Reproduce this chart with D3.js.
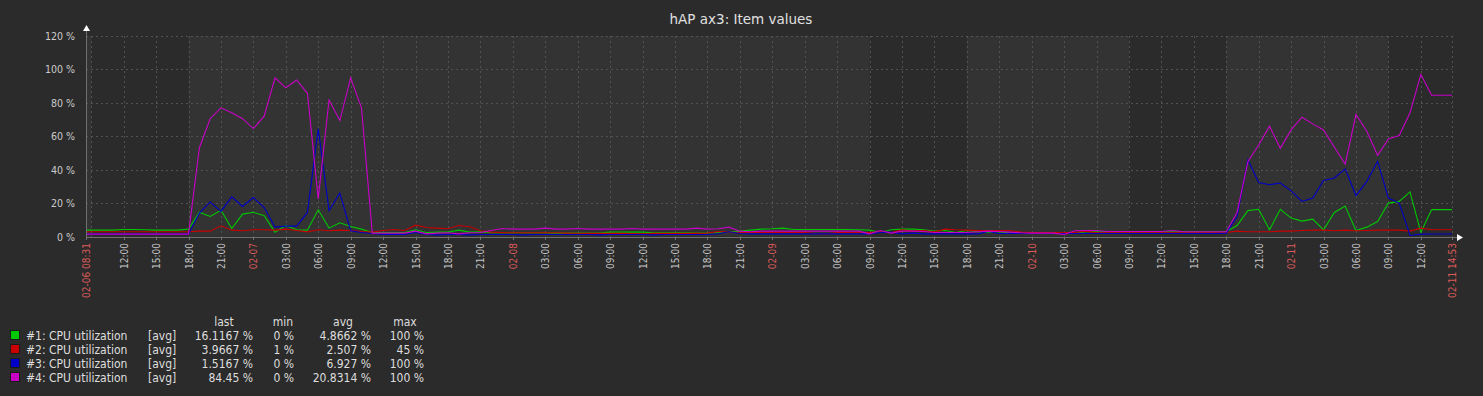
<!DOCTYPE html>
<html>
<head>
<meta charset="utf-8">
<script src="https://cdn.jsdelivr.net/npm/d3@7"></script>
<style>
  body { margin: 0; background: #2b2b2b; }
  svg { display: block; font-family: "DejaVu Sans Condensed", "DejaVu Sans", sans-serif; font-stretch: condensed; }
</style>
</head>
<body>
<div id="chart-area"></div>
<script>
// hourly averages, first value = 02-06 09:00, last value = 02-11 13:00
var cpu1 = [
  3.8, 3.8, 3.8, 4.2, 4.2, 4.0, 3.8, 3.8, 3.8, 4.4,
  14.5, 12, 15.7, 4.8, 13.4, 14.5, 12.5, 2.6, 6.6, 4, 3.8, 16, 5, 8.2, 6, 4.4, 2.4,
  2.4, 2.4, 2.4, 4, 2.4, 2.6, 2.6, 3.8, 2.6, 2.8, 2.2, 2.2,
  2.2, 2.2, 2.2, 2.2, 2, 2, 2, 2, 2,
  2.6, 2.6, 2.6, 2.6,
  2.2, 2.2, 2.2, 2.2, 2, 2,
  2.4, 2.6, 3.2,
  3.8, 4.4, 4.6, 5, 4.2, 4.2, 4.2, 4.2, 4.2, 4.2, 4, 3.8,
  2.4, 4, 4.4, 4.4, 4, 3.2, 3.6, 2.4,
  3.6, 2.8, 2.4, 2.8, 2, 2, 2, 2, 2, 2, 1.8, 2.8,
  2.8, 2.8, 2.8, 2.8, 2.8, 2.8, 2.8, 2.8, 2.8, 2.8, 2.8, 2.8, 2.8,
  6.6, 15.5, 16.3, 4, 16.3, 11, 9.2, 10.4, 4, 14.4, 18.3, 3.6, 5.6, 9, 20, 21, 26.7, 2.4, 16.1
];
var cpu2 = [
  2.8, 2.8, 2.8, 2.8, 2.8, 2.8, 2.8, 2.8, 2.8, 2.8,
  3.2, 3.2, 6.4, 3.8, 3.4, 4, 4, 3.8, 4.4, 3.6, 2.8, 4, 3.4, 3.8, 3.6, 3, 2.6,
  3.6, 4.2, 3.6, 6.8, 5.4, 5.0, 4.6, 6.6, 5.8, 3.4, 2.6, 2.4,
  2.2, 2.2, 2.2, 2.2, 2.2, 2.0, 1.9, 1.9, 1.9, 1.9, 1.9, 1.8, 1.6, 1.9, 1.9, 1.9, 1.9, 1.9, 2.0,
  3, 2.6, 2.4,
  2.4, 2.4, 2.4, 2.4, 2.4, 2.4,
  1.8, 1.6,
  2.4, 2.4, 2.4, 2.4, 2.8, 2.4,
  4, 3.2, 3.6, 2.8, 4.4, 4,
  3.8, 3.6, 3.6, 3.6, 3.6,
  2.6,
  2.4, 2.4, 2.4, 2.4, 2.4,
  3.2,
  2.2, 2.2, 2.2, 2.2, 2.2, 2.2, 2.2, 2.2, 2.2, 2.2, 2.2, 2.2, 2.4,
  3.2, 2.8, 2.8, 2.8, 3.2, 3.2, 3.6, 3.8, 3.8, 3.4, 3.8, 3.4, 3.6, 3.8, 3.8, 3.8, 3.2, 5, 4.0
];
var cpu3 = [
  1.4, 1.4, 1.4, 1.4, 1.4, 1.4, 1.4, 1.4, 1.4, 1.4,
  14, 20.7, 15, 23.7, 18, 23.3, 17.3, 5.6, 6.2, 6.2, 14.4, 64.4, 15.5, 26, 3.4, 2.4, 1.8,
  1.2, 1.2, 1.2,
  2.4,
  1.2, 1.0, 1.2, 1.2, 1.0, 1.2, 1.2, 1.2, 1.2, 1.0, 1.2, 1.2, 1.2, 1.2,
  1.2, 1.2, 1.0, 1.2, 1.2, 1.2, 1.2, 1.0, 1.2, 1.2, 1.2, 1.2, 1.2,
  1.6, 2.8, 1.8,
  1.6, 1.6, 1.6, 1.6, 1.6, 1.6, 1.6, 1.6, 1.6, 1.6, 1.6, 1.6,
  2.4, 2.6, 1.6, 2,
  1.6, 1.6, 1.6, 1.6, 1.6, 1.6,
  3, 1.8,
  1.8, 1.8, 1.8, 1.8, 1.8, 1.8, 1.8, 1.8, 1.8, 1.8, 1.8, 1.8, 1.8, 1.8, 1.8, 1.8, 1.8, 1.8, 1.8, 1.8,
  2,
  12, 46, 32.3, 31, 32, 27.3, 21, 23, 33.5, 35, 40.5, 24.5, 33, 45, 23, 20, 0.6, 1.4, 1.5
];
var cpu4 = [
  1.4, 1.4, 1.4, 1.4, 1.4, 1.4, 1.4, 1.4, 1.4, 1.4,
  53, 70.5, 77, 74, 70.5, 64.6, 72, 95, 89, 93.7, 85.7, 22.5, 81.7, 69.4, 95, 77, 2,
  2, 2, 2,
  3.2, 1.6, 2, 2.2, 1.6, 2.2, 2.4, 3.6, 4.8,
  4.4, 4.4, 4.4, 5, 4.4, 4.4,
  4.8,
  4.4, 4.4, 4.4, 4.4,
  4.8,
  4.4, 4.4, 4.4, 4.4, 4.4,
  5, 4.4, 4.6, 5.6, 3.2, 2.8,
  3.2, 3.2, 3.2, 3.2, 3.2, 3.2, 3.2, 3.2, 3.2, 3.2,
  1.6, 3.6, 2, 3.2, 3.2, 3, 2.4, 2.4, 2.4, 2.4,
  2.8, 3.2, 3, 2.6, 2.2, 2, 2, 2, 1.2, 3.4, 3.6, 3.6,
  3.0, 3.0, 3.0, 3.0, 3.0, 3.0,
  3.6,
  2.8, 2.8, 2.8, 2.8, 2.8,
  14.4, 44.8, 54.8, 66, 52.8, 63.8, 71.4, 67.4, 63.8, 53.4, 43.3, 73, 63, 48.6, 58.4, 60.4, 74, 97, 84.5
];

var seriesNames = ["#1: CPU utilization", "#2: CPU utilization", "#3: CPU utilization", "#4: CPU utilization"];
var seriesColors = ["#00c800", "#c80000", "#0000c8", "#c800c8"];
var lastVals = ["16.1167 %", "3.9667 %", "1.5167 %", "84.45 %"];
var minVals = ["0 %", "1 %", "0 %", "0 %"];
var avgVals = ["4.8662 %", "2.507 %", "6.927 %", "20.8314 %"];
var maxVals = ["100 %", "45 %", "100 %", "100 %"];
var yTicks = [0, 20, 40, 60, 80, 100, 120];

var timeStart = new Date(2026, 1, 6, 8, 31);
var timeEnd = new Date(2026, 1, 11, 14, 53);
var firstHour = new Date(2026, 1, 6, 9, 0);

var width = 1483, height = 396;
var plotLeft = 86, plotRight = 1452, plotTop = 36, plotBottom = 236.5;

var svg = d3.select("#chart-area")
  .append("svg")
    .attr("width", width)
    .attr("height", height);

var x = d3.scaleTime().domain([timeStart, timeEnd]).range([plotLeft, plotRight]);
var y = d3.scaleLinear().domain([0, 120]).range([plotBottom, plotTop]);

// title
svg.append("text")
  .attr("x", 741).attr("y", 24)
  .attr("text-anchor", "middle")
  .attr("fill", "#e0e0e0")
  .style("font-size", "13.5px")
  .style("font-family", "'DejaVu Sans', sans-serif")
  .style("font-stretch", "normal")
  .text("hAP ax3: Item values");

// background: non-working time light, working time (Mon-Fri 09-18) dark
svg.append("rect")
  .attr("x", plotLeft).attr("y", plotTop)
  .attr("width", plotRight - plotLeft).attr("height", plotBottom - plotTop)
  .attr("fill", "#333333");

d3.timeDay.range(d3.timeDay.floor(timeStart), timeEnd).forEach(function(day) {
  var dow = day.getDay();
  if (dow == 0 || dow == 6) return;
  var s = d3.timeHour.offset(day, 9), e = d3.timeHour.offset(day, 18);
  if (s < timeStart) s = timeStart;
  if (e > timeEnd) e = timeEnd;
  if (e <= s) return;
  svg.append("rect")
    .attr("x", x(s)).attr("y", plotTop)
    .attr("width", x(e) - x(s)).attr("height", plotBottom - plotTop)
    .attr("fill", "#2b2b2b");
});

// grid
var hourTicks = d3.timeHour.every(3).range(timeStart, timeEnd);
var grid = svg.append("g")
  .attr("stroke", "#525252")
  .attr("stroke-dasharray", "2,3")
  .attr("shape-rendering", "crispEdges");

grid.selectAll("line.h")
  .data(yTicks.slice(1))
  .enter().append("line")
    .attr("class", "h")
    .attr("x1", plotLeft).attr("x2", plotRight)
    .attr("y1", function(d) { return Math.round(y(d)) + 0.5; })
    .attr("y2", function(d) { return Math.round(y(d)) + 0.5; });

grid.selectAll("line.v")
  .data(hourTicks.concat([timeEnd]))
  .enter().append("line")
    .attr("class", "v")
    .attr("x1", function(d) { return Math.round(x(d)) + 0.5; })
    .attr("x2", function(d) { return Math.round(x(d)) + 0.5; })
    .attr("y1", plotTop).attr("y2", plotBottom);

// series lines
var line = d3.line()
  .x(function(d) { return x(d[0]); })
  .y(function(d) { return y(d[1]); });

[cpu1, cpu2, cpu3, cpu4].forEach(function(vals, i) {
  var pts = [[timeStart, vals[0]]];
  vals.forEach(function(v, h) {
    pts.push([d3.timeHour.offset(firstHour, h), v]);
  });
  pts.push([timeEnd, vals[vals.length - 1]]);
  svg.append("path")
    .datum(pts)
    .attr("d", line)
    .attr("fill", "none")
    .attr("stroke", seriesColors[i])
    .attr("stroke-width", 1.1);
});

// axes
svg.append("line")
  .attr("x1", plotLeft + 0.5).attr("x2", plotLeft + 0.5)
  .attr("y1", 29).attr("y2", plotBottom + 1)
  .attr("stroke", "#707070");
svg.append("line")
  .attr("x1", plotLeft).attr("x2", 1457)
  .attr("y1", 237.5).attr("y2", 237.5)
  .attr("stroke", "#707070");
svg.append("path")
  .attr("d", "M" + (plotLeft + 0.5) + ",25 L" + (plotLeft + 4) + ",31 L" + (plotLeft - 3) + ",31 Z")
  .attr("fill", "#ffffff");
svg.append("path")
  .attr("d", "M1463,237.5 L1457,234 L1457,241 Z")
  .attr("fill", "#ffffff");

// y labels
svg.selectAll("text.ylab")
  .data(yTicks)
  .enter().append("text")
    .attr("class", "ylab")
    .attr("x", 75)
    .attr("y", function(d) { return y(d) + 4; })
    .attr("text-anchor", "end")
    .attr("fill", "#cccccc")
    .style("font-size", "10.5px")
    .text(function(d) { return d + " %"; });

// x labels
var fmtHour = d3.timeFormat("%H:%M");
var fmtDay = d3.timeFormat("%m-%d");
var fmtFull = d3.timeFormat("%m-%d %H:%M");
var xLabels = [{t: timeStart, text: fmtFull(timeStart), red: true}];
hourTicks.forEach(function(t) {
  if (x(t) - x(timeStart) < 15) return;
  var midnight = t.getHours() == 0;
  xLabels.push({t: t, text: midnight ? fmtDay(t) : fmtHour(t), red: midnight});
});
xLabels.push({t: timeEnd, text: fmtFull(timeEnd), red: true});

svg.selectAll("line.xtick")
  .data(xLabels)
  .enter().append("line")
    .attr("class", "xtick")
    .attr("x1", function(d) { return Math.round(x(d.t)) + 0.5; })
    .attr("x2", function(d) { return Math.round(x(d.t)) + 0.5; })
    .attr("y1", 238).attr("y2", 240)
    .attr("stroke", "#707070");

svg.selectAll("text.xlab")
  .data(xLabels)
  .enter().append("text")
    .attr("class", "xlab")
    .attr("transform", function(d) { return "translate(" + (x(d.t) + 0.5) + ",243) rotate(-90)"; })
    .attr("text-anchor", "end")
    .attr("dy", "0.35em")
    .attr("fill", function(d) { return d.red ? "#dc5a5a" : "#c4c4c4"; })
    .style("font-size", "10px")
    .text(function(d) { return d.text; });

// legend
var legend = svg.append("g")
  .attr("fill", "#dedede")
  .style("font-size", "12px");

var headers = [["last", 224], ["min", 283], ["avg", 343], ["max", 405]];
headers.forEach(function(hd) {
  legend.append("text")
    .attr("x", hd[1]).attr("y", 326)
    .attr("text-anchor", "middle")
    .text(hd[0]);
});

seriesNames.forEach(function(name, i) {
  var yy = 335 + i * 14;
  legend.append("rect")
    .attr("x", 10.5).attr("y", yy - 4.5)
    .attr("width", 9).attr("height", 9)
    .attr("fill", seriesColors[i])
    .attr("stroke", "#1a1a1a");
  legend.append("text").attr("x", 26).attr("y", yy + 4.5).text(name);
  legend.append("text").attr("x", 148).attr("y", yy + 4.5).text("[avg]");
  legend.append("text").attr("x", 253).attr("y", yy + 4.5).attr("text-anchor", "end").text(lastVals[i]);
  legend.append("text").attr("x", 294).attr("y", yy + 4.5).attr("text-anchor", "end").text(minVals[i]);
  legend.append("text").attr("x", 371).attr("y", yy + 4.5).attr("text-anchor", "end").text(avgVals[i]);
  legend.append("text").attr("x", 424).attr("y", yy + 4.5).attr("text-anchor", "end").text(maxVals[i]);
});
</script>
</body>
</html>
